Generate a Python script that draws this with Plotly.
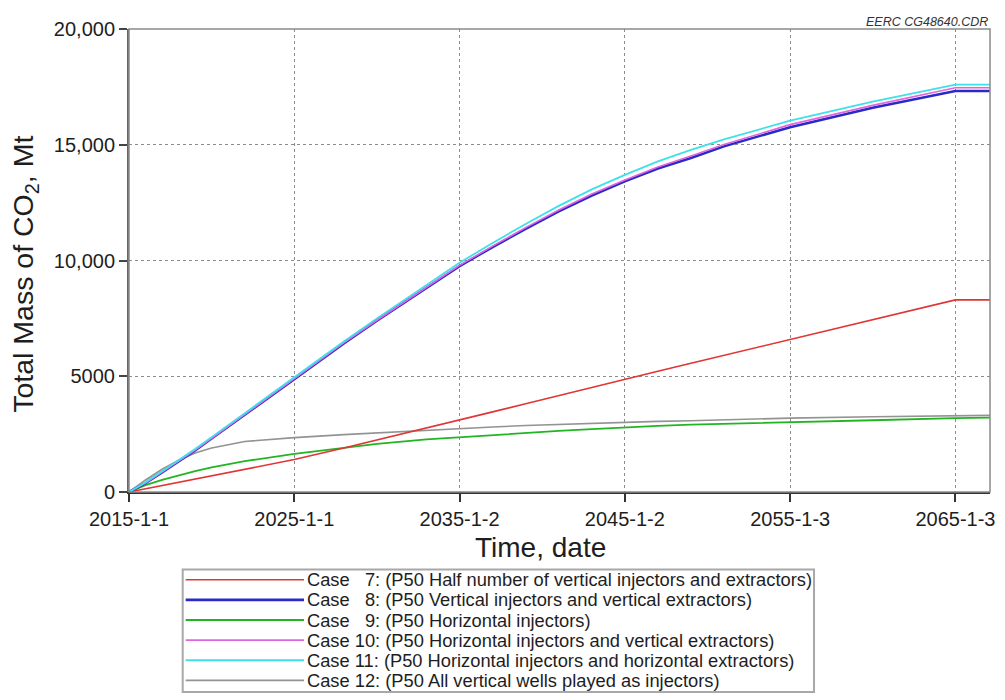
import plotly.graph_objects as go

# ---------------- data ----------------
dates = ["2015-01-01", "2016-01-01", "2017-01-01", "2018-01-01", "2019-01-01",
         "2020-01-01", "2022-01-01", "2025-01-01", "2028-01-01", "2030-01-01",
         "2033-01-01", "2035-01-01", "2037-01-01", "2039-01-01", "2041-01-01",
         "2043-01-01", "2045-01-01", "2047-01-01", "2049-01-01", "2051-01-01",
         "2055-01-01", "2060-01-01", "2065-01-01", "2067-02-05"]

case7 = [0, 140, 280, 420, 560, 690, 990, 1400, 1900, 2240,
         2760, 3100, 3460, 3810, 4170, 4520, 4880, 5220, 5560, 5900,
         6570, 7430, 8300, 8300]
case8 = [0, 380, 850, 1310, 1800, 2310, 3350, 4870, 6420, 7400,
         8820, 9760, 10580, 11370, 12120, 12800, 13420, 13970, 14430, 14930,
         15760, 16600, 17320, 17320]
case9 = [0, 300, 520, 720, 900, 1060, 1330, 1650, 1920, 2080,
         2270, 2370, 2460, 2550, 2640, 2720, 2800, 2860, 2910, 2950,
         3010, 3100, 3190, 3210]
case10 = [0, 390, 860, 1320, 1810, 2320, 3360, 4880, 6440, 7420,
          8850, 9790, 10620, 11420, 12180, 12870, 13480, 14040, 14510, 15010,
          15870, 16700, 17460, 17460]
case11 = [0, 420, 900, 1370, 1860, 2370, 3410, 4930, 6500, 7500,
          8940, 9900, 10760, 11580, 12360, 13070, 13700, 14280, 14780, 15230,
          16040, 16860, 17600, 17600]
case12 = [0, 520, 980, 1370, 1680, 1900, 2180, 2350, 2480, 2560,
          2680, 2750, 2810, 2870, 2920, 2970, 3010, 3050, 3080, 3120,
          3190, 3250, 3300, 3310]

series_labels = [
    "Case\u00a0\u00a0\u00a07: (P50 Half number of vertical injectors and extractors)",
    "Case\u00a0\u00a0\u00a08: (P50 Vertical injectors and vertical extractors)",
    "Case\u00a0\u00a0\u00a09: (P50 Horizontal injectors)",
    "Case 10: (P50 Horizontal injectors and vertical extractors)",
    "Case 11: (P50 Horizontal injectors and horizontal extractors)",
    "Case 12: (P50 All vertical wells played as injectors)",
]
series_values = [case7, case8, case9, case10, case11, case12]
series_colors = ["#e03535", "#2a2ac8", "#22b522", "#e066e0", "#3fe0ea", "#939393"]
series_widths = [1.6, 2.6, 1.8, 1.6, 1.8, 1.6]

x_tickvals = ["2015-01-01", "2025-01-01", "2035-01-02", "2045-01-02",
              "2055-01-03", "2065-01-03"]
x_ticktext = ["2015-1-1", "2025-1-1", "2035-1-2", "2045-1-2", "2055-1-3", "2065-1-3"]
y_tickvals = [0, 5000, 10000, 15000, 20000]
y_ticktext = ["0", "5000", "10,000", "15,000", "20,000"]

# ---------------- layout geometry ----------------
OFF = 8                                  # page body margin of the browser
W, H = 1005 - OFF, 700 - OFF
L, R, T, B = 129 - OFF, 995 - OFF, 20 - OFF, 492 - OFF   # plot area (figure px)
PW, PH = R - L, B - T
FONT = "Arial, Liberation Sans, sans-serif"
TXT = "#1e1e1e"


def px(xp):
    """reference-picture x pixel -> paper coordinate"""
    return (xp - OFF - L) / PW


def py(yp):
    """reference-picture y pixel -> paper coordinate"""
    return (B - (yp - OFF)) / PH


fig = go.Figure()

draw_order = [5, 2, 0, 1, 3, 4]
for i in draw_order:
    fig.add_trace(go.Scatter(
        x=dates, y=series_values[i], mode="lines",
        line=dict(color=series_colors[i], width=series_widths[i]),
        name=series_labels[i], showlegend=False,
    ))

shapes = []
annotations = []

# plot frame (light gray top/right)
shapes.append(dict(type="rect", xref="paper", yref="paper", x0=0, x1=1, y0=0, y1=1,
                   line=dict(color="#8a8a8a", width=1.5), layer="above"))

# custom legend
box_x0, box_x1, box_y0, box_y1 = 183, 818, 571, 696
shapes.append(dict(type="rect", xref="paper", yref="paper",
                   x0=px(box_x0), x1=px(box_x1), y0=py(box_y0), y1=py(box_y1),
                   line=dict(color="#a8a8a8", width=2), fillcolor="white"))
row0, row_step = 581.5, 20.5
for i, lab in enumerate(series_labels):
    yy = row0 + i * row_step
    shapes.append(dict(type="line", xref="paper", yref="paper",
                       x0=px(186), x1=px(305), y0=py(yy), y1=py(yy),
                       line=dict(color=series_colors[i], width=series_widths[i])))
    annotations.append(dict(xref="paper", yref="paper", x=px(306), y=py(yy),
                            xanchor="left", yanchor="middle", showarrow=False,
                            text=lab, font=dict(family=FONT, size=18.3, color=TXT)))

# axis titles
annotations.append(dict(xref="paper", yref="paper", x=px(543), y=py(549),
                        xanchor="center", yanchor="middle", showarrow=False,
                        text="Time, date", font=dict(family=FONT, size=28, color=TXT)))
annotations.append(dict(xref="paper", yref="paper", x=px(25), y=py(270),
                        xanchor="center", yanchor="middle", showarrow=False,
                        textangle=-90,
                        text="Total Mass of CO<sub>2</sub>, Mt",
                        font=dict(family=FONT, size=28.5, color=TXT)))
# watermark
annotations.append(dict(xref="paper", yref="paper", x=1, y=py(13),
                        xanchor="right", yanchor="middle", showarrow=False,
                        text="<i>EERC CG48640.CDR</i>",
                        font=dict(family=FONT, size=12.5, color="#333333")))

fig.update_layout(
    width=W, height=H,
    margin=dict(l=L, r=W - R, t=T, b=H - B, pad=0),
    paper_bgcolor="white", plot_bgcolor="white",
    shapes=shapes, annotations=annotations,
    showlegend=False,
    font=dict(family=FONT, color=TXT),
)
fig.update_xaxes(
    type="date", range=["2015-01-01", "2067-02-05"],
    tickvals=x_tickvals, ticktext=x_ticktext,
    tickfont=dict(family=FONT, size=20, color=TXT),
    ticks="outside", ticklen=8, tickwidth=1.5, tickcolor="#333333",
    showline=True, linecolor="#333333", linewidth=2,
    showgrid=True, gridcolor="#8c8c8c", gridwidth=1, griddash="dot",
    zeroline=False,
)
fig.update_yaxes(
    range=[0, 20000],
    tickvals=y_tickvals, ticktext=y_ticktext,
    tickfont=dict(family=FONT, size=20, color=TXT),
    ticks="outside", ticklen=8, tickwidth=1.5, tickcolor="#444444",
    showline=True, linecolor="#666666", linewidth=2,
    showgrid=True, gridcolor="#8c8c8c", gridwidth=1, griddash="dot",
    zeroline=False,
)

fig.write_html("out.html")
